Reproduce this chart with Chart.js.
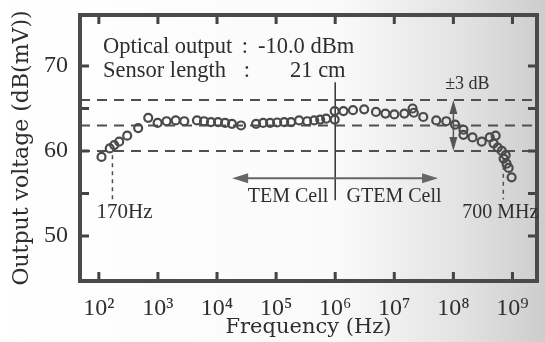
<!DOCTYPE html>
<html>
<head>
<meta charset="utf-8">
<script src="https://cdn.jsdelivr.net/npm/chart.js@4.4.0/dist/chart.umd.min.js"></script>
<style>
  html, body { margin: 0; padding: 0; background: #fff; }
</style>
</head>
<body>
<canvas id="freq-chart" width="545" height="342"></canvas>
<script>
// Frequency response (Hz, dB(mV))
const freqHz = [
  111, 153, 182, 221, 302, 463, 685, 989, 1400, 2000, 2790,
  4580, 6030, 7910, 10400, 13700, 17900, 25500,
  45800, 60300, 79100, 104000, 137000, 179000, 245000, 335000, 441000, 557000, 703000, 980000,
  980000, 1380000, 2000000, 3090000, 4900000, 7080000, 10000000, 14800000, 20400000, 21400000, 30900000,
  51300000, 75900000, 107000000,
  148000000, 148000000, 211000000, 302000000, 412000000, 479000000, 519000000, 562000000,
  661000000, 708000000, 767000000, 794000000, 861000000, 966000000
];
const outputDb = [
  59.3, 60.3, 60.7, 61.1, 61.8, 62.7, 63.9, 63.3, 63.5, 63.6, 63.5,
  63.6, 63.5, 63.4, 63.4, 63.3, 63.2, 63.0,
  63.2, 63.3, 63.3, 63.35, 63.4, 63.4, 63.6, 63.5, 63.6, 63.7, 63.8, 63.7,
  64.7, 64.7, 64.8, 64.9, 64.6, 64.4, 64.3, 64.4, 65.0, 64.5, 64.0,
  63.6, 63.5, 63.1,
  62.5, 61.9, 61.6, 61.1, 61.6, 60.9, 61.8, 60.4,
  60.0, 59.1, 59.5, 58.5, 58.0, 56.9
];

// axis ticks
const decadeTicks = [1e2, 1e3, 1e4, 1e5, 1e6, 1e7, 1e8, 1e9];
const decadeLabels = ['10²', '10³', '10⁴', '10⁵', '10⁶', '10⁷', '10⁸', '10⁹'];
const dbTicks = [50, 60, 70];
const dbMinorTicks = [50, 55, 60, 65, 70];

// ±3 dB band around the mean level
const bandLevels = [66, 63, 60];
const cellBoundaryHz = 1e6;
const lowCornerHz = 170;
const highCornerHz = 7e8;

const ink = '#2e2e2e';

function arrowHead(ctx, x, y, dx, dy, len, half) {
  ctx.beginPath();
  ctx.moveTo(x, y);
  ctx.lineTo(x - dx * len - dy * half, y - dy * len + dx * half);
  ctx.lineTo(x - dx * len + dy * half, y - dy * len - dx * half);
  ctx.closePath();
  ctx.fill();
}

const overlay = {
  id: 'overlay',
  beforeDraw(chart) {
    const ctx = chart.ctx;
    const g = ctx.createLinearGradient(0, 0, chart.width, 0);
    g.addColorStop(0, '#ffffff');
    g.addColorStop(0.62, '#fafafa');
    g.addColorStop(0.85, '#e2e2e2');
    g.addColorStop(1, '#cdcdcd');
    ctx.save();
    ctx.fillStyle = g;
    ctx.fillRect(0, 0, chart.width, chart.height);
    ctx.restore();
  },
  beforeDatasetsDraw(chart) {
    const {ctx, chartArea: a, scales: {x, y}} = chart;
    ctx.save();
    // dashed band lines
    ctx.strokeStyle = '#505050';
    ctx.lineWidth = 2;
    ctx.setLineDash([10, 7]);
    bandLevels.forEach(v => {
      const py = y.getPixelForValue(v);
      ctx.beginPath();
      ctx.moveTo(a.left, py);
      ctx.lineTo(a.right, py);
      ctx.stroke();
    });
    // corner frequency markers
    ctx.lineWidth = 1.5;
    ctx.setLineDash([4, 4]);
    [[lowCornerHz, 59.5], [highCornerHz, 59.2]].forEach(([f, v]) => {
      const px = x.getPixelForValue(f);
      ctx.beginPath();
      ctx.moveTo(px, y.getPixelForValue(v));
      ctx.lineTo(px, y.getPixelForValue(54.3));
      ctx.stroke();
    });
    ctx.setLineDash([]);
    // TEM / GTEM boundary
    const bx = x.getPixelForValue(cellBoundaryHz);
    ctx.strokeStyle = '#333';
    ctx.lineWidth = 1.5;
    ctx.beginPath();
    ctx.moveTo(bx, y.getPixelForValue(68.1));
    ctx.lineTo(bx, y.getPixelForValue(54.2));
    ctx.stroke();
    // arrows
    const ay = y.getPixelForValue(56.8);
    const lx = x.getPixelForValue(1.8e4);
    const rx = x.getPixelForValue(5.5e7);
    ctx.strokeStyle = '#666';
    ctx.fillStyle = '#666';
    ctx.lineWidth = 2;
    ctx.beginPath();
    ctx.moveTo(lx + 6, ay);
    ctx.lineTo(rx - 6, ay);
    ctx.stroke();
    arrowHead(ctx, lx, ay, -1, 0, 16, 5);
    arrowHead(ctx, rx, ay, 1, 0, 16, 5);
    // ±3 dB arrow
    const vx = x.getPixelForValue(1e8);
    const t = y.getPixelForValue(bandLevels[0]);
    const b = y.getPixelForValue(bandLevels[2]);
    ctx.strokeStyle = '#555';
    ctx.fillStyle = '#555';
    ctx.lineWidth = 1.5;
    ctx.beginPath();
    ctx.moveTo(vx, t + 4);
    ctx.lineTo(vx, b - 4);
    ctx.stroke();
    arrowHead(ctx, vx, t, 0, -1, 14, 4);
    arrowHead(ctx, vx, b, 0, 1, 14, 4);
    ctx.restore();
  },
  afterDraw(chart) {
    const {ctx, chartArea: a, scales: {x, y}} = chart;
    ctx.save();
    // inward tick marks on all four sides
    ctx.strokeStyle = '#444';
    ctx.lineWidth = 3;
    decadeTicks.forEach(f => {
      const px = x.getPixelForValue(f);
      ctx.beginPath();
      ctx.moveTo(px, a.bottom); ctx.lineTo(px, a.bottom - 9);
      ctx.moveTo(px, a.top); ctx.lineTo(px, a.top + 9);
      ctx.stroke();
    });
    dbMinorTicks.forEach(v => {
      const py = y.getPixelForValue(v);
      ctx.beginPath();
      ctx.moveTo(a.left, py); ctx.lineTo(a.left + 9, py);
      ctx.moveTo(a.right, py); ctx.lineTo(a.right - 9, py);
      ctx.stroke();
    });
    // frame
    ctx.strokeStyle = '#4a4a4a';
    ctx.lineWidth = 4;
    ctx.strokeRect(a.left, a.top, a.right - a.left, a.bottom - a.top);

    // texts
    ctx.fillStyle = ink;
    ctx.textBaseline = 'middle';
    ctx.font = '22.5px "Liberation Serif"';
    ctx.textAlign = 'left';
    ctx.fillText('Optical output', 103, 47);
    ctx.fillText('Sensor length', 103, 71);
    ctx.textAlign = 'center';
    ctx.fillText(':', 245, 47);
    ctx.fillText(':', 247, 71);
    ctx.textAlign = 'left';
    ctx.fillText('-10.0 dBm', 258, 47);
    ctx.fillText('21 cm', 290, 71);

    ctx.font = '20px "Liberation Serif"';
    ctx.textAlign = 'center';
    ctx.fillText('TEM Cell', 288, 197);
    ctx.fillText('GTEM Cell', 394, 197);
    ctx.fillText('700 MHz', x.getPixelForValue(highCornerHz) - 3, 213);
    ctx.font = '21px "Liberation Serif"';
    ctx.fillText('170Hz', x.getPixelForValue(lowCornerHz) + 12, 212);
    ctx.font = '18px "Liberation Serif"';
    ctx.fillText('±3 dB', x.getPixelForValue(1e8) + 14, 84);
    ctx.restore();
  }
};

const chartEl = document.getElementById('freq-chart');
const freqChart = new Chart(chartEl.getContext('2d'), {
  type: 'scatter',
  data: {
    datasets: [{
      label: 'Output voltage',
      data: freqHz.map((f, i) => ({x: f, y: outputDb[i]})),
      pointRadius: 4,
      pointBorderWidth: 2.2,
      pointBorderColor: '#4a4a4a',
      pointBackgroundColor: 'rgba(255,255,255,0)',
      showLine: false
    }]
  },
  options: {
    responsive: false,
    animation: false,
    layout: { padding: { top: 15, right: 8, left: 0, bottom: 0 } },
    plugins: { legend: { display: false }, tooltip: { enabled: false } },
    scales: {
      x: {
        type: 'logarithmic',
        min: 48,
        max: 2.6e9,
        afterBuildTicks: s => { s.ticks = decadeTicks.map(v => ({value: v})); },
        afterFit: s => { s.height = 61; s.paddingLeft = 0; s.paddingRight = 0; },
        grid: { display: false },
        border: { display: false },
        ticks: {
          color: ink,
          font: { family: 'Liberation Serif', size: 24 },
          padding: 5,
          maxRotation: 0,
          autoSkip: false,
          callback: (v, i) => decadeLabels[i]
        },
        title: {
          display: true,
          text: 'Frequency (Hz)',
          color: ink,
          font: { family: 'DejaVu Serif', size: 21 },
          padding: { top: 0, bottom: 2 }
        }
      },
      y: {
        min: 44.7,
        max: 76,
        afterBuildTicks: s => { s.ticks = dbTicks.map(v => ({value: v})); },
        afterFit: s => { s.width = 80; s.paddingTop = 0; s.paddingBottom = 0; },
        grid: { display: false },
        border: { display: false },
        ticks: {
          color: ink,
          font: { family: 'Liberation Serif', size: 24 },
          padding: 4
        },
        title: {
          display: true,
          text: 'Output voltage (dB(mV))',
          color: ink,
          font: { family: 'DejaVu Serif', size: 22 },
          padding: { top: 9, bottom: 0 }
        }
      }
    }
  },
  plugins: [overlay]
});
</script>
</body>
</html>
